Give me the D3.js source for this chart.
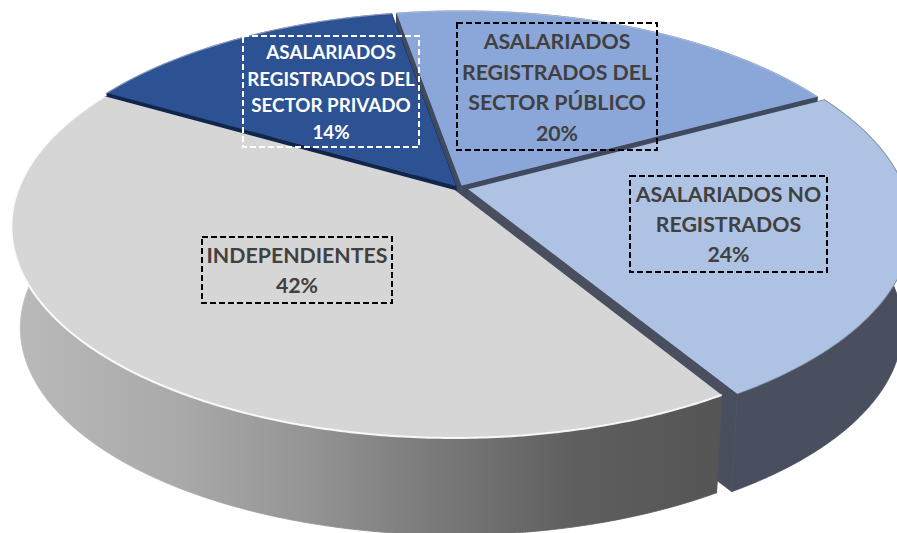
<!DOCTYPE html>
<html><head><meta charset="utf-8">
<script src="https://cdn.jsdelivr.net/npm/d3@7/dist/d3.min.js"></script>
<style>html,body{margin:0;padding:0;background:#fff}svg{display:block}</style>
</head><body>
<svg id="c" width="897" height="533"></svg>
<script>
const categories = ["ASALARIADOS REGISTRADOS DEL SECTOR PÚBLICO","ASALARIADOS NO REGISTRADOS","INDEPENDIENTES","ASALARIADOS REGISTRADOS DEL SECTOR PRIVADO"];
const values = [20,24,42,14];
const labelLines = [["ASALARIADOS","REGISTRADOS DEL","SECTOR PÚBLICO"],["ASALARIADOS NO","REGISTRADOS"],["INDEPENDIENTES"],["ASALARIADOS","REGISTRADOS DEL","SECTOR PRIVADO"]];
const topColors = ["#8ba7d9","#aec3e3","#d6d6d6","#2c5294"];
const wallColors = ["#3f4a60","#4a4f5f","url(#greyWall)","#12264d"];

const svg = d3.select("#c");
const cx=459, cy=188, rx=436, ry=205, k=0.17, s=0.98, depth=102;
const explode=[0.014,0.022,0.014,0.012];
const startDeg=-10;
const pie=d3.pie().sort(null).startAngle(startDeg*Math.PI/180).endAngle((startDeg+360)*Math.PI/180);
const arcs=pie(values);
const line=d3.line();

function project(x,y,bottom){
  const w=1-k*y, f=bottom?s:1;
  return [cx+f*rx*x/w, cy+(bottom?depth:0)+f*ry*y/w];
}
function pointAt(a,r,e,bottom){
  const mx=e.dx+r*Math.sin(a), my=e.dy-r*Math.cos(a);
  return project(mx,my,bottom);
}
function rimAngles(d){
  const n=Math.ceil((d.endAngle-d.startAngle)/0.01);
  return d3.range(n+1).map(i=>d.startAngle+(d.endAngle-d.startAngle)*i/n);
}
const defs=svg.append("defs");
const g=defs.append("linearGradient").attr("id","greyWall").attr("gradientUnits","userSpaceOnUse")
  .attr("x1",12).attr("x2",720).attr("y1",0).attr("y2",0);
[[0,"#bababa"],[0.24,"#a9a9a9"],[0.42,"#949494"],[0.58,"#7c7c7c"],[0.8,"#5e5e5e"],[1,"#555555"]]
  .forEach(p=>g.append("stop").attr("offset",p[0]).attr("stop-color",p[1]));
const f=defs.append("filter").attr("id","soft").attr("x","-5%").attr("y","-5%").attr("width","110%").attr("height","110%");
f.append("feGaussianBlur").attr("stdDeviation",0.7);

const order=[0,3,1,2];
order.forEach(i=>{
  const d=arcs[i], mid=(d.startAngle+d.endAngle)/2;
  const e={dx:explode[i]*Math.sin(mid), dy:-explode[i]*Math.cos(mid)};
  const as=rimAngles(d);
  const topRim=as.map(a=>pointAt(a,1,e,false));
  const botRim=as.map(a=>pointAt(a,1,e,true));
  const apexT=pointAt(0,0,e,false), apexB=pointAt(0,0,e,true);
  const grp=svg.append("g");
  const startCol=wallColors[i===2?1:i], endCol=wallColors[i===2?3:i];
  grp.append("path").attr("d",line([apexT,topRim[0],botRim[0],apexB])+"Z").attr("fill",startCol).attr("stroke",startCol).attr("stroke-width",0.8);
  grp.append("path").attr("d",line([apexT,topRim[topRim.length-1],botRim[botRim.length-1],apexB])+"Z").attr("fill",endCol).attr("stroke",endCol).attr("stroke-width",0.8);
  grp.append("path").attr("d",line(topRim.concat(botRim.slice().reverse()))+"Z").attr("fill",wallColors[i]).attr("stroke",wallColors[i]).attr("stroke-width",0.8);
  grp.append("path").attr("d",line([apexT].concat(topRim))+"Z").attr("fill",topColors[i]);
  grp.append("path").attr("d",line(topRim)).attr("fill","none")
    .attr("stroke",i===2?"#ffffff":(i===1?"#8d99ad":"#c5d2ea"))
    .attr("stroke-width",i===2?2:1.2).attr("opacity",i===2?0.9:0.6).attr("filter","url(#soft)");
});

const boxes=[
 {x:457,y:23,w:200,h:127,fs:21.3,lh:30.5,y0:49,col:"#404040",box:"#000"},
 {x:630,y:176,w:197,h:96,fs:21.3,lh:30,y0:202,col:"#404040",box:"#000"},
 {x:202,y:237,w:190,h:66,fs:21.3,lh:30,y0:263,col:"#404040",box:"#000"},
 {x:243,y:36,w:176,h:111,fs:18.8,lh:26.5,y0:59,col:"#ffffff",box:"#fff"}
];
boxes.forEach((b,i)=>{
  svg.append("rect").attr("x",b.x).attr("y",b.y).attr("width",b.w).attr("height",b.h)
    .attr("fill","none").attr("stroke",b.box).attr("stroke-width",2).attr("stroke-dasharray","6 3");
  const lines=labelLines[i].concat([values[i]+"%"]);
  svg.append("g").selectAll("text").data(lines).join("text")
    .attr("x",b.x+b.w/2).attr("y",(_,j)=>b.y0+j*b.lh)
    .attr("text-anchor","middle").attr("font-family","Lato, 'Open Sans', sans-serif")
    .attr("font-weight",700).attr("font-size",b.fs).attr("fill",b.col).text(t=>t);
});
</script>
</body></html>
